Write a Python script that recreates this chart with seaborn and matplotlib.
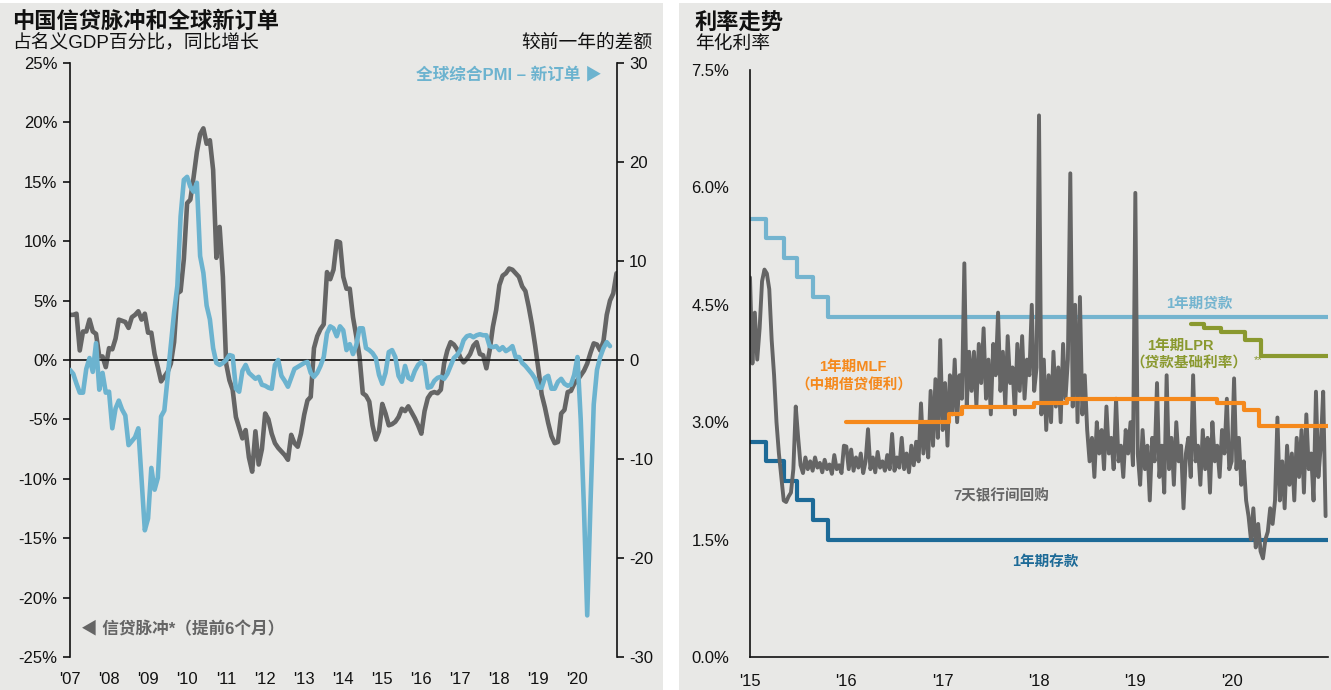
import numpy as np
import pandas as pd
import matplotlib
matplotlib.use("Agg")
import matplotlib.pyplot as plt
from matplotlib.patches import Rectangle
import seaborn as sns

sns.set_theme(style="white")
plt.rcParams["font.family"] = ["Liberation Sans", "Noto Sans CJK SC", "DejaVu Sans"]
plt.rcParams["axes.unicode_minus"] = False

# ---------------- Left panel: credit impulse vs global PMI new orders ----------------
# Monthly, starting January 2007 (credit impulse is shifted 6 months forward)
credit_impulse = [
    3.8, 3.8, 3.9, 0.8, 2.4, 2.4, 3.4, 2.4, 2.2, 0.3, 0.3, -0.6,
    1.0, 0.9, 1.8, 3.4, 3.3, 3.2, 2.7, 3.6, 3.8, 4.1, 3.4, 3.9,
    2.3, 2.3, 0.5, -0.6, -1.8, -1.4, -1.0, -0.3, 1.5, 5.6, 5.8, 8.5,
    13.2, 13.5, 15.4, 17.5, 19.0, 19.5, 18.2, 18.5, 16.0, 8.6, 11.2, 7.0,
    -0.3, -1.7, -2.5, -4.8, -5.7, -6.6, -5.9, -8.2, -9.4, -6.0, -8.8, -7.5,
    -4.5, -5.0, -6.2, -7.0, -7.4, -7.7, -8.0, -8.4, -6.3, -7.0, -7.3, -6.2,
    -4.6, -3.4, -3.1, 1.0, 2.0, 2.6, 3.0, 7.4, 6.8, 7.6, 10.0, 9.9,
    7.0, 6.0, 6.0, 3.6, 2.0, 0.3, -2.8, -3.0, -3.5, -5.5, -6.7, -6.0,
    -3.7, -4.5, -5.5, -5.4, -5.2, -4.8, -4.1, -4.3, -3.9, -4.4, -4.9, -5.5,
    -6.2, -4.3, -3.2, -2.8, -2.7, -2.8, -2.5, -0.3, 0.8, 1.5, 1.3, 0.9,
    0.2, -0.2, 0.1, 0.5, 1.2, 1.5, 0.5, 0.4, -0.7, 0.8, 2.8, 4.2,
    6.3, 7.1, 7.3, 7.7, 7.6, 7.3, 7.0, 6.2, 5.8, 4.5, 3.0, 1.2,
    -0.8, -2.9, -4.0, -5.3, -6.4, -7.0, -6.9, -4.5, -4.2, -2.7, -2.6, -2.0,
    -1.7, -1.3, -0.9, -0.3, 0.6, 1.4, 1.3, 0.8, 1.6, 3.8, 5.0, 5.6,
    7.3,
]

pmi_new_orders = [
    -1.0, -1.4, -2.4, -3.3, -3.3, -0.9, 0.2, -1.2, 1.7, -3.0, -1.3, -3.3,
    -3.2, -6.9, -4.9, -4.1, -5.0, -5.6, -8.6, -8.2, -7.8, -6.9, -12.0, -17.2,
    -16.0, -10.9, -13.1, -11.9, -5.7, -5.1, -1.8, 1.5, 4.8, 7.5, 14.5, 18.2,
    18.5, 17.5, 17.0, 17.9, 10.5, 8.8, 5.5, 4.1, 1.2, -0.3, -0.5, -0.3,
    0.0, 0.5, 0.4, -2.9, -3.2, -1.1, -0.5, -1.3, -1.6, -1.9, -1.7, -2.5,
    -2.6, -2.8, -2.9, -0.5, 0.0, -1.6, -2.1, -2.7, -1.8, -0.9, -0.7, -0.5,
    -0.3, -0.2, -1.3, -1.7, -1.3, -0.6, 0.3, 2.7, 3.4, 3.2, 2.4, 3.4,
    3.0, 1.0, 1.6, 0.6, 1.5, 3.2, 3.2, 1.2, 1.0, 0.7, 0.2, -1.5,
    -2.4, -1.3, 0.8, 1.0, 0.3, -1.6, -2.2, -0.6, -1.8, -2.0, -1.1, -0.5,
    -0.2, -0.5, -2.8, -2.7, -2.1, -1.8, -1.7, -1.9, -1.4, -0.6, 0.2, 0.5,
    1.0, 2.0, 2.4, 2.5, 2.3, 2.5, 2.6, 2.5, 2.5, 1.4, 1.3, 1.4,
    1.0, 1.3, 0.9, 1.1, 1.4, 0.3, 0.3, -0.3, -0.6, -1.0, -1.4, -1.9,
    -2.8, -2.8, -1.8, -1.6, -2.9, -2.9, -2.2, -1.9, -2.4, -2.6, -2.5, -1.5,
    0.3, -6.0, -15.0, -25.8, -14.5, -4.5, -1.0, 0.3, 1.2, 1.8, 1.4,
]

left_pct_ticks = [25, 20, 15, 10, 5, 0, -5, -10, -15, -20, -25]
right_diff_ticks = [30, 20, 10, 0, -10, -20, -30]
left_years = list(range(2007, 2021))

# ---------------- Right panel: interest rates ----------------
loan_dates = ["2015-01-01", "2015-03-01", "2015-05-11", "2015-06-28",
              "2015-08-26", "2015-10-24", "2020-12-31"]
loan_rate = [5.60, 5.35, 5.10, 4.85, 4.60, 4.35, 4.35]
deposit_rate = [2.75, 2.50, 2.25, 2.00, 1.75, 1.50, 1.50]

mlf_dates = ["2016-01-01", "2017-01-24", "2017-03-16", "2017-12-14", "2018-04-17",
             "2019-11-05", "2020-02-17", "2020-04-15", "2020-12-31"]
mlf_rate = [3.00, 3.10, 3.20, 3.25, 3.30, 3.25, 3.15, 2.95, 2.95]

lpr_dates = ["2019-08-01", "2019-09-20", "2019-11-20", "2020-02-20",
             "2020-04-20", "2020-12-31"]
lpr_rate = [4.25, 4.20, 4.15, 4.05, 3.85, 3.85]

# 7-day interbank repo, sampled 40 times per year
repo_2015 = [4.85, 3.75, 4.40, 3.80, 4.20, 4.80, 4.95, 4.90, 4.70, 4.05,
             3.60, 3.00, 2.60, 2.30, 2.00, 1.98, 2.05, 2.10, 2.40, 3.20,
             2.80, 2.45, 2.35, 2.55, 2.40, 2.50, 2.38, 2.55, 2.42, 2.48,
             2.36, 2.52, 2.40, 2.46, 2.34, 2.58, 2.40, 2.45, 2.35, 2.70]
repo_2016 = [2.69, 2.40, 2.65, 2.38, 2.55, 2.42, 2.60, 2.35, 2.50, 2.91,
             2.40, 2.55, 2.36, 2.62, 2.42, 2.50, 2.38, 2.58, 2.40, 2.85,
             2.38, 2.55, 2.42, 2.80, 2.40, 2.60, 2.36, 2.70, 2.45, 2.75,
             2.50, 3.24, 2.60, 3.00, 2.55, 3.40, 2.70, 3.55, 2.80, 4.05]
repo_2017 = [2.90, 3.50, 2.70, 3.60, 3.10, 3.80, 3.00, 3.60, 3.30, 5.03,
             3.20, 3.90, 3.40, 3.90, 3.20, 4.00, 3.50, 4.20, 3.30, 3.80,
             3.10, 4.00, 3.60, 4.40, 3.40, 3.90, 3.20, 4.10, 3.50, 3.70,
             3.10, 4.00, 3.40, 4.10, 3.30, 3.80, 3.60, 4.50, 3.40, 3.70]
repo_2018 = [6.92, 3.10, 3.80, 2.90, 3.60, 3.00, 3.90, 3.20, 3.70, 3.00,
             4.00, 3.30, 3.80, 6.18, 3.20, 4.50, 3.00, 4.60, 3.10, 3.60,
             2.90, 2.50, 2.80, 2.30, 3.00, 2.60, 2.90, 2.40, 3.20, 2.60,
             2.80, 2.40, 3.30, 2.50, 2.70, 2.30, 2.90, 2.60, 3.00, 2.45]
repo_2019 = [5.93, 2.60, 2.20, 2.90, 2.40, 2.70, 2.00, 2.80, 2.50, 3.50,
             2.30, 2.70, 2.10, 3.60, 2.40, 2.80, 2.20, 3.00, 2.50, 2.70,
             1.90, 2.60, 2.80, 2.30, 3.60, 2.50, 2.70, 2.20, 2.90, 2.40,
             2.80, 2.10, 3.00, 2.50, 2.70, 2.30, 2.90, 2.60, 3.30, 2.40]
repo_2020 = [2.50, 3.56, 2.40, 2.80, 2.20, 2.50, 2.00, 1.80, 1.50, 1.90,
             1.40, 1.70, 1.35, 1.26, 1.50, 1.60, 1.90, 1.70, 2.00, 3.06,
             2.00, 2.50, 1.90, 2.70, 2.20, 2.60, 2.00, 2.80, 2.30, 2.90,
             2.10, 3.10, 2.40, 2.60, 2.00, 3.39, 2.30, 2.70, 3.39, 1.80]
repo_years = {2015: repo_2015, 2016: repo_2016, 2017: repo_2017,
              2018: repo_2018, 2019: repo_2019, 2020: repo_2020}

rate_ticks = [0.0, 1.5, 3.0, 4.5, 6.0, 7.5]
right_years = list(range(2015, 2022))

# ---------------- Colours ----------------
PANEL = "#e8e8e6"
GRAY = "#656565"
PMI_BLUE = "#6cb3cf"
LOAN_BLUE = "#74b4cf"
DEPOSIT_BLUE = "#1d6a97"
MLF_ORANGE = "#f5891c"
LPR_OLIVE = "#8a992f"
INK = "#111111"


def decimal_year(dates):
    d = pd.to_datetime(pd.Series(dates))
    return (d.dt.year + (d.dt.dayofyear - 1) / 365.0).to_numpy()


W, H = 1331, 690
fig = plt.figure(figsize=(W / 100, H / 100), dpi=100)
fig.patch.set_facecolor("white")
fig.add_artist(Rectangle((0, 0), 663 / W, 687 / H, transform=fig.transFigure,
                         facecolor=PANEL, edgecolor="none", zorder=0))
fig.add_artist(Rectangle((679 / W, 0), (W - 679) / W, 687 / H, transform=fig.transFigure,
                         facecolor=PANEL, edgecolor="none", zorder=0))


def fig_text(x, y, s, **kw):
    fig.text(x / W, 1 - y / H, s, **kw)


TICK_FS = 12

# ======================= Left chart =======================
axL = fig.add_axes([70 / W, 33 / H, 546.5 / W, 594 / H])
axL.set_facecolor("none")
axP = axL.twinx()

ci_x = 2007 + np.arange(len(credit_impulse)) / 12.0
pmi_x = 2007 + np.arange(len(pmi_new_orders)) / 12.0

sns.lineplot(x=ci_x, y=credit_impulse, ax=axL, color=GRAY, linewidth=3.3,
             estimator=None, sort=False, errorbar=None)
sns.lineplot(x=pmi_x, y=pmi_new_orders, ax=axP, color=PMI_BLUE, linewidth=3.3,
             estimator=None, sort=False, errorbar=None)

axL.set_xlim(2007, 2021.0)
axL.set_ylim(-25, 25)
axP.set_ylim(-30, 30)

for s in ["top", "right"]:
    axL.spines[s].set_visible(False)
axL.spines["bottom"].set_position(("data", 0))
for s in ["left", "bottom"]:
    axL.spines[s].set_color(INK)
    axL.spines[s].set_linewidth(1.2)
for s in ["left", "top", "bottom"]:
    axP.spines[s].set_visible(False)
axP.spines["right"].set_color(INK)
axP.spines["right"].set_linewidth(1.2)

axL.set_xticks(left_years)
axL.tick_params(axis="x", direction="out", length=5, width=1.2, color=INK, labelbottom=False)
axL.set_yticks(left_pct_ticks)
axL.set_yticklabels([f"{v}%" for v in left_pct_ticks])
axL.tick_params(axis="y", direction="out", length=5, width=1.2, color=INK,
                labelsize=TICK_FS, labelcolor=INK, pad=4)
axP.set_yticks(right_diff_ticks)
axP.set_yticklabels([str(v) for v in right_diff_ticks])
axP.tick_params(axis="y", direction="out", length=5, width=1.2, color=INK,
                labelsize=TICK_FS, labelcolor=INK, pad=4)
axL.set_xlabel("")
axL.set_ylabel("")
axP.set_ylabel("")

secL = axL.secondary_xaxis(0)
secL.set_xticks(left_years)
secL.set_xticklabels([f"'{y % 100:02d}" for y in left_years])
secL.tick_params(axis="x", length=0, pad=11, labelsize=TICK_FS, labelcolor=INK)
secL.spines["bottom"].set_visible(False)

axL.text(2020.62, 24.0, "全球综合PMI – 新订单 ▶", color=PMI_BLUE, fontsize=12,
         fontweight="bold", ha="right", va="center")
axL.text(2007.27, -22.65, "◀ 信贷脉冲*（提前6个月）", color=GRAY, fontsize=12,
         fontweight="bold", ha="left", va="center")

fig_text(12, 22, "中国信贷脉冲和全球新订单", fontsize=16, fontweight="bold",
         color=INK, ha="left", va="center")
fig_text(12, 43, "占名义GDP百分比，同比增长", fontsize=13.5, color=INK,
         ha="left", va="center")
fig_text(652, 43, "较前一年的差额", fontsize=13.5, color=INK, ha="right", va="center")

# ======================= Right chart =======================
axR = fig.add_axes([750 / W, 33 / H, 578 / W, 587 / H])
axR.set_facecolor("none")

loan_x = decimal_year(loan_dates)
mlf_x = decimal_year(mlf_dates)
lpr_x = decimal_year(lpr_dates)
repo_x = np.concatenate([yr + np.arange(len(v)) / len(v) for yr, v in repo_years.items()])
repo_v = np.concatenate([v for v in repo_years.values()])

sns.lineplot(x=loan_x, y=loan_rate, ax=axR, color=LOAN_BLUE, linewidth=3.0,
             drawstyle="steps-post", estimator=None, sort=False, errorbar=None)
sns.lineplot(x=loan_x, y=deposit_rate, ax=axR, color=DEPOSIT_BLUE, linewidth=3.0,
             drawstyle="steps-post", estimator=None, sort=False, errorbar=None)
sns.lineplot(x=repo_x, y=repo_v, ax=axR, color=GRAY, linewidth=2.8,
             estimator=None, sort=False, errorbar=None)
sns.lineplot(x=mlf_x, y=mlf_rate, ax=axR, color=MLF_ORANGE, linewidth=3.0,
             drawstyle="steps-post", estimator=None, sort=False, errorbar=None)
sns.lineplot(x=lpr_x, y=lpr_rate, ax=axR, color=LPR_OLIVE, linewidth=3.0,
             drawstyle="steps-post", estimator=None, sort=False, errorbar=None)

axR.set_xlim(2015, 2021)
axR.set_ylim(0, 7.5)
for s in ["top", "right"]:
    axR.spines[s].set_visible(False)
for s in ["left", "bottom"]:
    axR.spines[s].set_color(INK)
    axR.spines[s].set_linewidth(1.2)
axR.set_yticks(rate_ticks)
axR.set_yticklabels([f"{v:.1f}%" for v in rate_ticks])
axR.set_xticks(right_years)
axR.set_xticklabels([f"'{y % 100:02d}" if y < 2021 else "" for y in right_years])
axR.tick_params(axis="both", direction="out", length=5, width=1.2, color=INK,
                labelsize=TICK_FS, labelcolor=INK)
axR.tick_params(axis="y", pad=10)
axR.tick_params(axis="x", pad=7)
axR.set_xlabel("")
axR.set_ylabel("")

ann = dict(fontsize=10.5, fontweight="bold", ha="center", va="center")
axR.text(2019.66, 4.52, "1年期贷款", color=LOAN_BLUE, **ann)
axR.text(2019.47, 3.97, "1年期LPR", color=LPR_OLIVE, **ann)
axR.text(2019.56, 3.755, "（贷款基础利率）", color=LPR_OLIVE, **ann)
axR.text(2020.28, 3.80, "**", color=LPR_OLIVE, fontsize=8, ha="center", va="center")
axR.text(2016.07, 3.70, "1年期MLF", color=MLF_ORANGE, **ann)
axR.text(2016.08, 3.475, "（中期借贷便利）", color=MLF_ORANGE, **ann)
axR.text(2017.61, 2.06, "7天银行间回购", color=GRAY, **ann)
axR.text(2018.07, 1.21, "1年期存款", color=DEPOSIT_BLUE, **ann)

fig_text(695, 23, "利率走势", fontsize=16, fontweight="bold", color=INK,
         ha="left", va="center")
fig_text(695, 44, "年化利率", fontsize=13.5, color=INK, ha="left", va="center")

fig.savefig("out.png", dpi=100, facecolor=fig.get_facecolor())
